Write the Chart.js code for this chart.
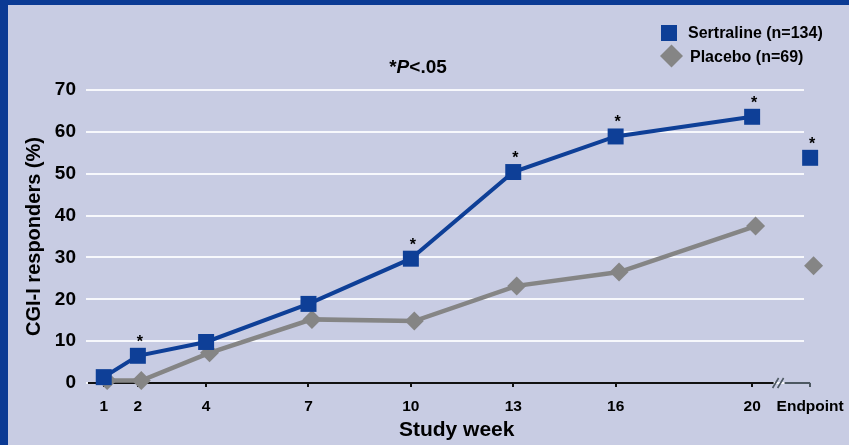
<!DOCTYPE html>
<html>
<head>
<meta charset="utf-8">
<script src="https://cdn.jsdelivr.net/npm/chart.js@4.4.1/dist/chart.umd.min.js"></script>
<style>
  html, body { margin: 0; padding: 0; background: #c8cce3; }
  canvas { display: block; }
</style>
</head>
<body>
<canvas id="chart" width="849" height="445"></canvas>
<script>
// Study weeks at which CGI-I response was assessed
const weeks = [1, 2, 4, 7, 10, 13, 16, 20];
// Percentage of CGI-I responders per week
const sertraline = [1.4, 6.5, 9.8, 18.9, 29.7, 50.4, 58.9, 63.6];
const placebo = [0.6, 0.6, 7.2, 15.2, 14.8, 23.2, 26.5, 37.5];
// Last-observation endpoint values
const sertralineEndpoint = 53.8;
const placeboEndpoint = 28.0;
// Weeks where sertraline differs from placebo at P<.05
const sertralineSignificant = [false, true, false, false, true, true, true, true];
const endpointSignificant = true;
// Axis labels
const xTickWeeks = [1, 2, 4, 7, 10, 13, 16, 20];
const endpointLabel = 'Endpoint';
const yTickValues = [0, 10, 20, 30, 40, 50, 60, 70];
const seriesNames = ['Sertraline (n=134)', 'Placebo (n=69)'];

const ENDPOINT_X = 21.7;     // where the endpoint column sits on the week axis
const BLUE = '#0e3f97';
const GREY = '#858585';
const FONT = "Arial, 'Liberation Sans', Helvetica, sans-serif";

Chart.defaults.font.family = FONT;
Chart.defaults.color = '#000';

const toPoints = (xs, ys) => xs.map((x, i) => ({ x, y: ys[i] }));

const background = {
  id: 'background',
  beforeDraw(chart) {
    const { ctx, width, height } = chart;
    ctx.save();
    ctx.fillStyle = '#c8cce3';
    ctx.fillRect(0, 0, width, height);
    ctx.fillStyle = '#0b3a94';
    ctx.fillRect(0, 0, 8, height);
    ctx.fillRect(0, 0, width, 5);
    ctx.restore();
  }
};

// Week axis line with a break before the endpoint column
const brokenAxis = {
  id: 'brokenAxis',
  beforeDatasetsDraw(chart) {
    const { ctx, chartArea } = chart;
    const xs = chart.scales.x;
    const y = xs.top;
    const breakStart = xs.getPixelForValue(20.6);
    const breakEnd = xs.getPixelForValue(20.95);
    const end = xs.getPixelForValue(ENDPOINT_X);
    ctx.save();
    ctx.lineWidth = 2;
    ctx.strokeStyle = '#111';
    ctx.beginPath();
    ctx.moveTo(chartArea.left + 2, y);
    ctx.lineTo(breakStart + 1, y);
    ctx.stroke();
    ctx.strokeStyle = '#4d5862';
    ctx.lineWidth = 1.6;
    ctx.beginPath();
    [0, 5].forEach(dx => {
      const x0 = breakStart + 3 + dx;
      ctx.moveTo(x0 - 3, y + 5);
      ctx.lineTo(x0 + 3, y - 5);
    });
    ctx.stroke();
    ctx.lineWidth = 2;
    ctx.beginPath();
    ctx.moveTo(breakEnd, y);
    ctx.lineTo(end, y);
    ctx.stroke();
    ctx.restore();
  }
};

// Significance asterisks, title and legend
const annotations = {
  id: 'annotations',
  afterDatasetsDraw(chart) {
    const { ctx } = chart;
    ctx.save();
    ctx.fillStyle = '#000';
    ctx.font = 'bold 16px ' + FONT;
    ctx.textAlign = 'center';
    ctx.textBaseline = 'alphabetic';
    const lineMeta = chart.getDatasetMeta(0);
    lineMeta.data.forEach((pt, i) => {
      if (sertralineSignificant[i]) ctx.fillText('*', pt.x + 2, pt.y - 9);
    });
    if (endpointSignificant) {
      const ep = chart.getDatasetMeta(1).data[0];
      ctx.fillText('*', ep.x + 2, ep.y - 9);
    }

    // *P<.05
    const parts = [
      ['*', 'bold 19px ' + FONT],
      ['P', 'italic bold 19px ' + FONT],
      ['<.05', 'bold 19px ' + FONT]
    ];
    let total = 0;
    parts.forEach(([t, f]) => { ctx.font = f; total += ctx.measureText(t).width; });
    let x = 418 - total / 2;
    ctx.textAlign = 'left';
    ctx.textBaseline = 'middle';
    parts.forEach(([t, f]) => { ctx.font = f; ctx.fillText(t, x, 68); x += ctx.measureText(t).width; });

    // Legend
    ctx.fillStyle = BLUE;
    Chart.helpers.drawPoint(ctx, { pointStyle: 'rect', radius: 11.3, borderWidth: 0 }, 669, 33);
    ctx.fillStyle = GREY;
    Chart.helpers.drawPoint(ctx, { pointStyle: 'rectRot', radius: 11.5, borderWidth: 0 }, 671.5, 56);
    ctx.fillStyle = '#000';
    ctx.font = 'bold 16px ' + FONT;
    ctx.fillText(seriesNames[0], 688, 34);
    ctx.fillText(seriesNames[1], 690, 57.5);
    ctx.restore();
  }
};

new Chart(document.getElementById('chart'), {
  type: 'line',
  data: {
    datasets: [
      {
        label: seriesNames[0],
        data: toPoints(weeks, sertraline),
        borderColor: BLUE,
        backgroundColor: BLUE,
        borderWidth: 4,
        pointStyle: 'rect',
        pointRadius: 11.3,
        pointBorderWidth: 0,
        pointHoverRadius: 11.3,
        tension: 0,
        clip: false,
        xAxisID: 'x'
      },
      {
        label: seriesNames[0] + ' endpoint',
        data: [{ x: ENDPOINT_X, y: sertralineEndpoint }],
        showLine: false,
        backgroundColor: BLUE,
        borderColor: BLUE,
        pointStyle: 'rect',
        pointRadius: 11.3,
        pointBorderWidth: 0,
        pointHoverRadius: 24,   // widens the draw margin so the point past the grid is kept
        clip: false,
        xAxisID: 'x'
      },
      {
        label: seriesNames[1],
        data: toPoints(weeks, placebo),
        borderColor: GREY,
        backgroundColor: GREY,
        borderWidth: 4.5,
        pointStyle: 'rectRot',
        pointRadius: 9.5,
        pointBorderWidth: 0,
        pointHoverRadius: 9.5,
        tension: 0,
        clip: false,
        xAxisID: 'x2'
      },
      {
        label: seriesNames[1] + ' endpoint',
        data: [{ x: ENDPOINT_X, y: placeboEndpoint }],
        showLine: false,
        backgroundColor: GREY,
        borderColor: GREY,
        pointStyle: 'rectRot',
        pointRadius: 9.5,
        pointBorderWidth: 0,
        pointHoverRadius: 24,
        clip: false,
        xAxisID: 'x2'
      }
    ]
  },
  options: {
    responsive: false,
    animation: false,
    devicePixelRatio: 1,
    events: [],
    layout: { padding: { top: 90, right: 45, bottom: 0, left: 0 } },
    plugins: {
      legend: { display: false },
      title: { display: false },
      tooltip: { enabled: false }
    },
    scales: {
      x: {
        type: 'linear',
        position: 'bottom',
        min: 0.48,
        max: 21.52,
        afterBuildTicks(scale) {
          scale.ticks = xTickWeeks.concat([ENDPOINT_X]).map(v => ({ value: v }));
        },
        afterFit(scale) {
          scale.height = 62;
          scale.paddingLeft = 0;
          scale.paddingRight = 0;
        },
        ticks: {
          autoSkip: false,
          maxRotation: 0,
          padding: 10,
          font: { size: 15.5, weight: 'bold' },
          color: '#000',
          callback: (v) => (v === ENDPOINT_X ? endpointLabel : String(v))
        },
        grid: {
          drawOnChartArea: false,
          drawTicks: true,
          tickLength: 4,
          lineWidth: 2,
          color: (c) => (c.tick && c.tick.value === ENDPOINT_X ? '#4d5862' : '#111')
        },
        border: { display: false },
        title: {
          display: true,
          text: '    Study week',
          font: { size: 21, weight: 'bold' },
          color: '#000',
          padding: { top: 0, bottom: 2 }
        }
      },
      x2: {
        type: 'linear',
        display: false,
        min: 0.38,
        max: 21.42
      },
      y: {
        type: 'linear',
        min: 0,
        max: 70,
        afterBuildTicks(scale) {
          scale.ticks = yTickValues.map(v => ({ value: v }));
        },
        afterFit(scale) {
          scale.width = 86;
        },
        ticks: {
          padding: 10,
          font: { size: 19, weight: 'bold' },
          color: '#000'
        },
        grid: {
          drawTicks: false,
          lineWidth: 2,
          color: '#f7f8fc'
        },
        border: { display: false },
        title: {
          display: true,
          text: 'CGI-I responders (%)',
          font: { size: 20, weight: 'bold' },
          color: '#000',
          padding: { top: 22, bottom: 0 }
        }
      }
    }
  },
  plugins: [background, brokenAxis, annotations]
});
</script>
</body>
</html>
